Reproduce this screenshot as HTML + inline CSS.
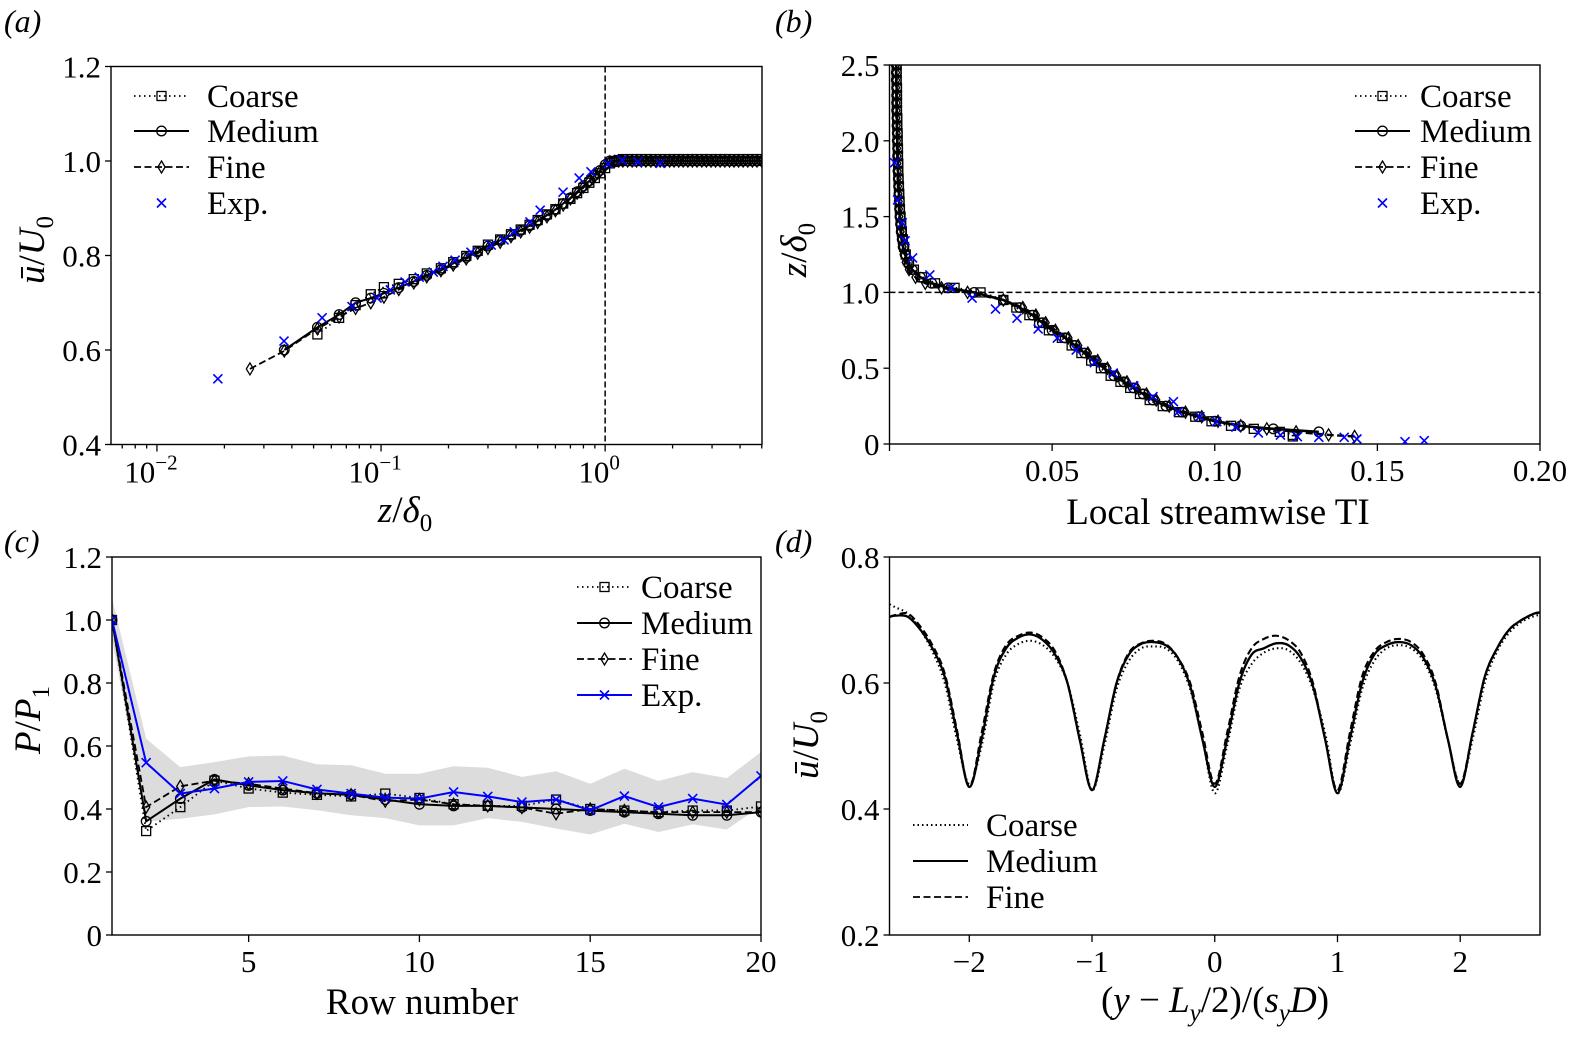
<!DOCTYPE html>
<html><head><meta charset="utf-8"><style>
html,body{margin:0;padding:0;background:#fff;}
svg{display:block;font-family:"Liberation Serif",serif;}
</style></head><body>
<svg id="fig" width="1576" height="1043" viewBox="0 0 1576 1043" xmlns="http://www.w3.org/2000/svg"></svg>
<script>
// ---------- Panel (a) data ----------
const zA=[0.026,0.037,0.052,0.065,0.077,0.09,0.103,0.12,0.14,0.16,0.185,0.21,0.24,0.27,0.3,0.34,0.38,0.42,0.46,0.5,0.55,0.6,0.65,0.7,0.75,0.8,0.85,0.9,0.95,1.0];
const uFineA=[0.56,0.598,0.645,0.67,0.688,0.70,0.712,0.728,0.742,0.755,0.768,0.78,0.793,0.805,0.815,0.828,0.84,0.85,0.86,0.87,0.882,0.895,0.907,0.92,0.932,0.945,0.957,0.968,0.978,0.99];
const uMedA=[null,0.60,0.648,0.675,0.70,0.71,0.72,0.732,0.745,0.758,0.77,0.783,0.796,0.808,0.82,0.832,0.843,0.853,0.863,0.873,0.885,0.897,0.91,0.922,0.935,0.947,0.958,0.97,0.98,0.992];
const uCoaA=[null,null,0.633,0.668,0.695,0.718,0.733,0.74,0.75,0.762,0.773,0.786,0.799,0.81,0.823,0.834,0.845,0.855,0.865,0.875,0.887,0.898,0.91,0.92,0.932,0.943,0.954,0.964,0.974,0.985];
const zPlatA=[1.05,1.1,1.15,1.2,1.26,1.32,1.38,1.45,1.52,1.6,1.68,1.76,1.85,1.94,2.03,2.13,2.23,2.34,2.45,2.57,2.7,2.83,2.97,3.11,3.26,3.42,3.59,3.76,3.94,4.13,4.33,4.54,4.76,5.0];
const uPlatFineA=[0.998,0.999,1,1,1,1,1,1,1,1,1,1,1,1,1,1,1,1,1,1,1,1,1,1,1,1,1,1,1,1,1,1,1,1];
const uPlatMedA=[1,1,1,1,1,1,1,1,1,1,1,1,1,1,1,1,1,1,1,1,1,1,1,1,1,1,1,1,1,1,1,1,1,1];
const uPlatCoaA=[0.995,0.998,1.002,1.004,1.004,1.004,1.004,1.004,1.004,1.004,1.004,1.004,1.004,1.004,1.004,1.004,1.004,1.004,1.004,1.004,1.004,1.004,1.004,1.004,1.004,1.004,1.004,1.004,1.004,1.004,1.004,1.004,1.004,1.004];
const zExpA=[0.0187,0.0369,0.0546,0.0742,0.096,0.11,0.128,0.148,0.171,0.189,0.214,0.252,0.31,0.354,0.393,0.462,0.513,0.649,0.766,0.865,1.03,1.19,1.40,1.76];
const uExpA=[0.539,0.619,0.668,0.692,0.71,0.727,0.744,0.754,0.765,0.777,0.79,0.807,0.822,0.833,0.85,0.871,0.896,0.934,0.964,0.977,0.994,1.002,0.998,0.995];
const yTicksA=[0.4,0.6,0.8,1.0,1.2];
const yTickLabelsA=["0.4","0.6","0.8","1.0","1.2"];
const xTicksA=[-2,-1,0];

// ---------- Panel (b) data ----------
const zB=[0.05,0.06,0.08,0.1,0.12,0.15,0.18,0.21,0.25,0.29,0.33,0.37,0.41,0.45,0.5,0.55,0.6,0.65,0.7,0.75,0.8,0.85,0.9,0.95,1.0,1.03,1.06,1.1,1.15,1.2,1.25,1.3,1.35,1.4,1.45,1.5,1.55,1.6,1.65,1.7,1.75,1.8,1.85,1.9,1.95,2.0,2.05,2.1,2.15,2.2,2.25,2.3,2.35,2.4,2.45,2.5];
const tiMedB=[null,null,0.132,0.118,0.108,0.1,0.095,0.09,0.085,0.081,0.078,0.075,0.072,0.069,0.066,0.063,0.06,0.057,0.054,0.05,0.047,0.044,0.04,0.035,0.026,0.018,0.013,0.0095,0.007,0.0055,0.0048,0.0042,0.0039,0.0036,0.0034,0.0032,0.0031,0.003,0.0029,0.0028,0.0027,0.0026,0.0026,0.0025,0.0025,0.0024,0.0024,0.0023,0.0023,0.0022,0.0022,0.0022,0.0022,0.0021,0.0021,0.0021];
const tiFineB=[0.143,0.135,0.125,0.116,0.108,0.101,0.096,0.091,0.086,0.082,0.079,0.076,0.073,0.07,0.067,0.064,0.061,0.058,0.055,0.051,0.048,0.045,0.041,0.035,0.024,0.016,0.011,0.008,0.006,0.005,0.0044,0.004,0.0037,0.0034,0.0032,0.003,0.0029,0.0028,0.0027,0.0026,0.0025,0.0025,0.0024,0.0024,0.0023,0.0023,0.0022,0.0022,0.0021,0.0021,0.0021,0.0021,0.002,0.002,0.002,0.002];
const tiCoaB=[0.124,0.124,0.12,0.112,0.105,0.099,0.094,0.089,0.084,0.08,0.077,0.074,0.071,0.068,0.065,0.062,0.059,0.056,0.053,0.049,0.046,0.043,0.039,0.035,0.028,0.02,0.014,0.01,0.0075,0.006,0.005,0.0045,0.0041,0.0038,0.0036,0.0034,0.0032,0.0031,0.003,0.0029,0.0028,0.0027,0.0027,0.0026,0.0026,0.0025,0.0025,0.0024,0.0024,0.0023,0.0023,0.0023,0.0023,0.0022,0.0022,0.0022];
const tiExpB=[0.0016,0.0025,0.0039,0.0048,0.0071,0.0124,0.0189,0.0254,0.0326,0.0392,0.0457,0.0516,0.0574,0.063,0.0688,0.0751,0.081,0.0873,0.0888,0.0954,0.1006,0.1065,0.1134,0.1202,0.1254,0.132,0.1398,0.1437,0.1585,0.1644];
const zExpB=[1.856,1.61,1.46,1.34,1.227,1.115,1.03,0.963,0.89,0.83,0.759,0.699,0.62,0.536,0.468,0.383,0.312,0.279,0.213,0.18,0.147,0.112,0.073,0.059,0.048,0.044,0.044,0.033,0.015,0.022];
const xTicksB=[0.05,0.10,0.15,0.20];
const xTickLabelsB=["0.05","0.10","0.15","0.20"];
const yTicksB=[0,0.5,1.0,1.5,2.0,2.5];
const yTickLabelsB=["0","0.5","1.0","1.5","2.0","2.5"];

// ---------- Panel (c) data ----------
const rows=[1,2,3,4,5,6,7,8,9,10,11,12,13,14,15,16,17,18,19,20];
const pExp=[1.0,0.547,0.449,0.465,0.486,0.489,0.462,0.449,0.436,0.433,0.454,0.44,0.422,0.43,0.396,0.441,0.406,0.433,0.414,0.505];
const pCoa=[1.0,0.33,0.406,0.49,0.465,0.452,0.445,0.44,0.449,0.435,0.415,0.41,0.41,0.43,0.40,0.395,0.39,0.395,0.395,0.408];
const pMed=[1.0,0.361,0.433,0.494,0.475,0.46,0.45,0.445,0.43,0.415,0.41,0.41,0.405,0.40,0.395,0.39,0.385,0.38,0.38,0.39];
const pFine=[1.0,0.406,0.472,0.49,0.48,0.465,0.45,0.445,0.425,0.43,0.415,0.41,0.405,0.385,0.40,0.395,0.39,0.39,0.39,0.39];
const bandUp=[1.07,0.623,0.533,0.549,0.567,0.57,0.542,0.539,0.512,0.512,0.536,0.531,0.502,0.52,0.48,0.528,0.489,0.517,0.498,0.581];
const bandLo=[0.94,0.36,0.369,0.383,0.406,0.408,0.396,0.38,0.371,0.348,0.348,0.371,0.359,0.338,0.319,0.353,0.327,0.351,0.335,0.41];
const xTicksC=[5,10,15,20];
const yTicksC=[0,0.2,0.4,0.6,0.8,1.0,1.2];
const yTickLabelsC=["0","0.2","0.4","0.6","0.8","1.0","1.2"];

// ---------- Panel (d) data ----------
const yD=[-2.65,-2.6,-2.5,-2.4,-2.3,-2.2,-2.1,-2.0,-1.9,-1.8,-1.7,-1.6,-1.5,-1.4,-1.3,-1.2,-1.1,-1.0,-0.9,-0.8,-0.7,-0.6,-0.5,-0.4,-0.3,-0.2,-0.1,0,0.1,0.2,0.3,0.4,0.5,0.6,0.7,0.8,0.9,1.0,1.1,1.2,1.3,1.4,1.5,1.6,1.7,1.8,1.9,2.0,2.1,2.2,2.3,2.4,2.5,2.6,2.65];
const uMedD=[0.705,0.707,0.705,0.685,0.655,0.61,0.52,0.435,0.51,0.61,0.655,0.672,0.677,0.668,0.645,0.60,0.51,0.43,0.51,0.60,0.645,0.662,0.665,0.66,0.64,0.595,0.51,0.435,0.51,0.60,0.645,0.655,0.663,0.66,0.64,0.595,0.51,0.425,0.51,0.60,0.645,0.66,0.665,0.66,0.64,0.595,0.51,0.435,0.52,0.61,0.655,0.685,0.70,0.71,0.712];
const uCoaD=[0.725,0.72,0.71,0.685,0.65,0.60,0.51,0.44,0.50,0.60,0.645,0.662,0.667,0.66,0.64,0.60,0.52,0.43,0.50,0.59,0.635,0.655,0.658,0.655,0.635,0.59,0.51,0.425,0.50,0.59,0.63,0.648,0.655,0.652,0.632,0.59,0.52,0.425,0.50,0.59,0.635,0.655,0.66,0.655,0.635,0.59,0.51,0.44,0.51,0.60,0.65,0.68,0.697,0.706,0.708];
const uFineD=[0.705,0.708,0.71,0.69,0.66,0.615,0.525,0.435,0.52,0.615,0.66,0.675,0.68,0.672,0.65,0.60,0.51,0.43,0.51,0.60,0.648,0.663,0.667,0.662,0.64,0.60,0.52,0.44,0.52,0.61,0.655,0.67,0.675,0.668,0.648,0.60,0.51,0.43,0.52,0.61,0.65,0.665,0.67,0.665,0.645,0.60,0.51,0.44,0.52,0.61,0.655,0.685,0.70,0.71,0.712];
const xTicksD=[-2,-1,0,1,2];
const xTickLabelsD=["\u22122","\u22121","0","1","2"];
const yTicksD=[0.2,0.4,0.6,0.8];
const yTickLabelsD=["0.2","0.4","0.6","0.8"];

// ---------- helpers ----------
const NS='http://www.w3.org/2000/svg';
const svg=document.getElementById('fig');
const TICK=31, LEG=33, TITLE=37;
function el(tag,parent){const e=document.createElementNS(NS,tag);parent.appendChild(e);return e;}
function at(e,o){for(const k in o)e.setAttribute(k,o[k]);return e;}
function linScale(d0,d1,r0,r1){return v=>r0+(v-d0)/(d1-d0)*(r1-r0);}
function logScale(e0,e1,r0,r1){return v=>r0+(Math.log10(v)-e0)/(e1-e0)*(r1-r0);}
const STY={coarse:{dash:'1.5,3.5',w:1.8},medium:{dash:'',w:2},fine:{dash:'7,3.5',w:1.8}};

function marker(g,type,x,y,color){
  let m;
  if(type==='s'){m=at(el('rect',g),{x:x-4.5,y:y-4.5,width:9,height:9,fill:'none',stroke:'#000','stroke-width':1.3});}
  else if(type==='o'){m=at(el('circle',g),{cx:x,cy:y,r:4.8,fill:'none',stroke:'#000','stroke-width':1.3});}
  else if(type==='d'){m=at(el('path',g),{d:`M${x} ${y-6}L${x+3.6} ${y}L${x} ${y+6}L${x-3.6} ${y}Z`,fill:'none',stroke:'#000','stroke-width':1.3});}
  else {m=at(el('path',g),{d:`M${x-4.5} ${y-4.5}L${x+4.5} ${y+4.5}M${x-4.5} ${y+4.5}L${x+4.5} ${y-4.5}`,fill:'none',stroke:color||'#0000ff','stroke-width':1.6});}
  return m;
}
function polyPath(xs,ys){let d='';let first=true;for(let i=0;i<xs.length;i++){if(ys[i]==null||xs[i]==null)continue;d+=(first?'M':'L')+xs[i].toFixed(2)+' '+ys[i].toFixed(2);first=false;}return d;}
function smoothPath(px,py){let d='M'+px[0]+' '+py[0];for(let i=0;i<px.length-1;i++){const x0=px[Math.max(0,i-1)],y0=py[Math.max(0,i-1)],x1=px[i],y1=py[i],x2=px[i+1],y2=py[i+1],x3=px[Math.min(px.length-1,i+2)],y3=py[Math.min(px.length-1,i+2)];
  d+=`C${(x1+(x2-x0)/6).toFixed(2)} ${(y1+(y2-y0)/6).toFixed(2)} ${(x2-(x3-x1)/6).toFixed(2)} ${(y2-(y3-y1)/6).toFixed(2)} ${x2.toFixed(2)} ${y2.toFixed(2)}`;}return d;}
function txt(g,x,y,s,size,anchor,extra){const t=at(el('text',g),{x:x,y:y,'font-size':size,'text-anchor':anchor||'middle',fill:'#000'});if(extra)at(t,extra);t.textContent=s;return t;}
function frame(g,b,id){const r=at(el('rect',g),{x:b.x0,y:b.y0,width:b.x1-b.x0,height:b.y1-b.y0,fill:'none',stroke:'#000','stroke-width':1.4});
  
  
  const cp=at(el('clipPath',g),{id:'clip-'+id});at(el('rect',cp),{x:b.x0,y:b.y0,width:b.x1-b.x0,height:b.y1-b.y0});}
function tick(g,x1,y1,x2,y2){at(el('line',g),{x1:x1,y1:y1,x2:x2,y2:y2,stroke:'#000','stroke-width':1.3});}
function legendEntry(g,x,y,type,label,lineStyle,color,tx){
  const e=el('g',g);
  if(lineStyle){at(el('line',e),{x1:x,y1:y,x2:x+55,y2:y,stroke:color||'#000','stroke-width':lineStyle.w,'stroke-dasharray':lineStyle.dash});}
  if(type)marker(e,type,x+27.5,y,color);
  txt(e,tx||x+73,y+11,label,LEG,'start');
  return e;
}

// ---------- Panel (a) ----------
{
const g=el('g',svg);
const b={x0:111,x1:762,y0:66.5,y1:444.5};
const sx=logScale(-2.205,0.70,b.x0,b.x1), sy=linScale(0.4,1.2,b.y1,b.y0);
frame(g,b,'a');
const pl=at(el('g',g),{'clip-path':'url(#clip-a)'});
const vl=at(el('line',pl),{x1:sx(1),y1:b.y0,x2:sx(1),y2:b.y1,stroke:'#000','stroke-width':1.5,'stroke-dasharray':'6,3'});


const series=[['coarse',uCoaA,uPlatCoaA,'s'],['medium',uMedA,uPlatMedA,'o'],['fine',uFineA,uPlatFineA,'d']];
for(const [nm,u,up,mk] of series){
  const sg=el('g',pl);
  const zs=zA.concat(zPlatA), us=u.concat(up);
  at(el('path',sg),{d:polyPath(zs.map(sx),us.map(v=>v==null?null:sy(v))),fill:'none',stroke:'#000','stroke-width':STY[nm].w,'stroke-dasharray':STY[nm].dash});
  for(let i=0;i<zs.length;i++){if(us[i]==null)continue;const m=marker(sg,mk,sx(zs[i]),sy(us[i]));
    
    }
}
const eg=el('g',pl);
for(let i=0;i<zExpA.length;i++){const m=marker(eg,'x',sx(zExpA[i]),sy(uExpA[i]));
  
  }
for(let i=0;i<yTicksA.length;i++){const y=sy(yTicksA[i]);tick(g,b.x0-6,y,b.x0,y);const t=txt(g,b.x0-10,y+11,yTickLabelsA[i],TICK,'end');
  
  }
for(const e of xTicksA){const x=sx(Math.pow(10,e));tick(g,x,b.y1,x,b.y1+7);
  const t=txt(g,x-6,b.y1+38,'10',TICK,'middle');const sp=at(el('tspan',t),{dy:-13,'font-size':21});sp.textContent=e===0?'0':'\u2212'+(-e);
  
  }
for(let e=-3;e<=0;e++){for(let k=2;k<=9;k++){const v=k*Math.pow(10,e);const x=sx(v);if(x<b.x0||x>b.x1)continue;tick(g,x,b.y1,x,b.y1+4);}}
const xt=txt(g,405,522,'',TITLE,'middle');xt.innerHTML='<tspan font-style="italic">z</tspan>/<tspan font-style="italic">δ</tspan><tspan font-size="25" dy="9">0</tspan>';


const yt=txt(g,0,0,'',TITLE,'middle',{transform:'translate(44,250) rotate(-90)'});yt.innerHTML='<tspan font-style="italic">ū</tspan>/<tspan font-style="italic">U</tspan><tspan font-size="25" dy="9">0</tspan>';


const lg=el('g',g);
const l1=legendEntry(lg,134,96,'s','Coarse',STY.coarse);
const l2=legendEntry(lg,134,131,'o','Medium',STY.medium);
const l3=legendEntry(lg,134,167,'d','Fine',STY.fine);
const l4=legendEntry(lg,134,203,'x','Exp.',null,'#0000ff');
const pa=txt(g,4,32,'(a)',32,'start',{'font-style':'italic'});
}

// ---------- Panel (b) ----------
{
const g=el('g',svg);
const b={x0:889.5,x1:1540,y0:65,y1:444};
const sx=linScale(0,0.2,b.x0,b.x1), sy=linScale(0,2.5,b.y1,b.y0);
frame(g,b,'b');
const pl=at(el('g',g),{'clip-path':'url(#clip-b)'});
const hl=at(el('line',pl),{x1:b.x0,y1:sy(1),x2:b.x1,y2:sy(1),stroke:'#000','stroke-width':1.5,'stroke-dasharray':'6,3'});


const series=[['coarse',tiCoaB,'s'],['medium',tiMedB,'o'],['fine',tiFineB,'d']];
for(const [nm,t,mk] of series){
  const sg=el('g',pl);
  at(el('path',sg),{d:polyPath(t.map(v=>v==null?null:sx(v)),zB.map(sy)),fill:'none',stroke:'#000','stroke-width':STY[nm].w+0.6,'stroke-dasharray':STY[nm].dash});
  for(let i=0;i<zB.length;i++){if(t[i]==null)continue;const m=marker(sg,mk,sx(t[i]),sy(zB[i]));
    
    }
}
const eg=el('g',pl);
for(let i=0;i<tiExpB.length;i++){const m=marker(eg,'x',sx(tiExpB[i]),sy(zExpB[i]));
  
  }
for(let i=0;i<xTicksB.length;i++){const x=sx(xTicksB[i]);tick(g,x,b.y1,x,b.y1+7);const t=txt(g,x,b.y1+37,xTickLabelsB[i],TICK,'middle');
  
  }
tick(g,b.x0,b.y1,b.x0,b.y1+7);
for(let i=0;i<yTicksB.length;i++){const y=sy(yTicksB[i]);tick(g,b.x0-6,y,b.x0,y);const t=txt(g,b.x0-10,y+11,yTickLabelsB[i],TICK,'end');
  
  }
const xt=txt(g,1218,524,'Local streamwise TI',TITLE,'middle');
const yt=txt(g,0,0,'',TITLE,'middle',{transform:'translate(806,250) rotate(-90)'});yt.innerHTML='<tspan font-style="italic">z</tspan>/<tspan font-style="italic">δ</tspan><tspan font-size="25" dy="9">0</tspan>';


const lg=el('g',g);
const l1=legendEntry(lg,1355,96,'s','Coarse',STY.coarse,null,1420);
const l2=legendEntry(lg,1355,131,'o','Medium',STY.medium,null,1420);
const l3=legendEntry(lg,1355,167,'d','Fine',STY.fine,null,1420);
const l4=legendEntry(lg,1355,203,'x','Exp.',null,'#0000ff',1420);
const pb=txt(g,775,32,'(b)',32,'start',{'font-style':'italic'});
}

// ---------- Panel (c) ----------
{
const g=el('g',svg);
const b={x0:112,x1:761,y0:557,y1:935};
const sx=linScale(1,20,b.x0,b.x1), sy=linScale(0,1.2,b.y1,b.y0);
const cp=at(el('clipPath',g),{id:'clip-c'});at(el('rect',cp),{x:b.x0,y:b.y0,width:b.x1-b.x0,height:b.y1-b.y0});
const pl=at(el('g',g),{'clip-path':'url(#clip-c)'});
let pts=rows.map((r,i)=>sx(r).toFixed(1)+','+sy(bandUp[i]).toFixed(1));
for(let i=rows.length-1;i>=0;i--)pts.push(sx(rows[i]).toFixed(1)+','+sy(bandLo[i]).toFixed(1));
const band=at(el('polygon',pl),{points:pts.join(' '),fill:'#dcdcdc',stroke:'none'});


const series=[['coarse',pCoa,'s','#000'],['medium',pMed,'o','#000'],['fine',pFine,'d','#000']];
for(const [nm,p,mk,c] of series){
  const sg=el('g',pl);
  at(el('path',sg),{d:polyPath(rows.map(sx),p.map(sy)),fill:'none',stroke:c,'stroke-width':STY[nm].w,'stroke-dasharray':STY[nm].dash});
  for(let i=0;i<rows.length;i++){const m=marker(sg,mk,sx(rows[i]),sy(p[i]));
    
    }
}
const eg=el('g',pl);
at(el('path',eg),{d:polyPath(rows.map(sx),pExp.map(sy)),fill:'none',stroke:'#0000ff','stroke-width':2});
for(let i=0;i<rows.length;i++){const m=marker(eg,'x',sx(rows[i]),sy(pExp[i]));
  
  }
const fr=at(el('rect',g),{x:b.x0,y:b.y0,width:b.x1-b.x0,height:b.y1-b.y0,fill:'none',stroke:'#000','stroke-width':1.4});


for(const v of xTicksC){const x=sx(v);tick(g,x,b.y1,x,b.y1+7);const t=txt(g,x,b.y1+37,String(v),TICK,'middle');
  
  }
for(let i=0;i<yTicksC.length;i++){const y=sy(yTicksC[i]);tick(g,b.x0-6,y,b.x0,y);const t=txt(g,b.x0-10,y+11,yTickLabelsC[i],TICK,'end');
  
  }
const xt=txt(g,422,1014,'Row number',TITLE,'middle');
const yt=txt(g,0,0,'',TITLE,'middle',{transform:'translate(40,720) rotate(-90)'});yt.innerHTML='<tspan font-style="italic">P</tspan>/<tspan font-style="italic">P</tspan><tspan font-size="25" dy="9">1</tspan>';


const lg=el('g',g);
const l1=legendEntry(lg,577,587,'s','Coarse',STY.coarse,null,641);
const l2=legendEntry(lg,577,623,'o','Medium',STY.medium,null,641);
const l3=legendEntry(lg,577,659,'d','Fine',STY.fine,null,641);
const l4=legendEntry(lg,577,695,'x','Exp.',{dash:'',w:2},'#0000ff',641);
const pc=txt(g,4,552,'(c)',32,'start',{'font-style':'italic'});
}

// ---------- Panel (d) ----------
{
const g=el('g',svg);
const b={x0:889.5,x1:1540,y0:557,y1:935};
const sx=linScale(-2.65,2.65,b.x0,b.x1), sy=linScale(0.2,0.8,b.y1,b.y0);
frame(g,b,'d');
const pl=at(el('g',g),{'clip-path':'url(#clip-d)'});
const series=[['coarse',uCoaD],['medium',uMedD],['fine',uFineD]];
for(const [nm,u] of series){
  const p=at(el('path',pl),{d:smoothPath(yD.map(sx),u.map(sy)),fill:'none',stroke:'#000','stroke-width':STY[nm].w+0.3,'stroke-dasharray':nm==='coarse'?'1.5,3':STY[nm].dash});
  
  
}
for(let i=0;i<xTicksD.length;i++){const x=sx(xTicksD[i]);tick(g,x,b.y1,x,b.y1+7);const t=txt(g,x,b.y1+37,xTickLabelsD[i],TICK,'middle');
  
  }
for(let i=0;i<yTicksD.length;i++){const y=sy(yTicksD[i]);tick(g,b.x0-6,y,b.x0,y);const t=txt(g,b.x0-10,y+11,yTickLabelsD[i],TICK,'end');
  
  }
const xt=txt(g,1215,1012,'',TITLE,'middle');xt.innerHTML='(<tspan font-style="italic">y</tspan> \u2212 <tspan font-style="italic">L</tspan><tspan font-size="25" dy="9" font-style="italic">y</tspan><tspan dy="-9">/2)/(</tspan><tspan font-style="italic">s</tspan><tspan font-size="25" dy="9" font-style="italic">y</tspan><tspan dy="-9" font-style="italic">D</tspan>)';


const yt=txt(g,0,0,'',TITLE,'middle',{transform:'translate(818,745) rotate(-90)'});yt.innerHTML='<tspan font-style="italic">ū</tspan>/<tspan font-style="italic">U</tspan><tspan font-size="25" dy="9">0</tspan>';


const lg=el('g',g);
const l1=legendEntry(lg,913,825,null,'Coarse',{dash:'1.5,3',w:2},null,986);
const l2=legendEntry(lg,913,861,null,'Medium',STY.medium,null,986);
const l3=legendEntry(lg,913,897,null,'Fine',STY.fine,null,986);
const pd=txt(g,775,552,'(d)',32,'start',{'font-style':'italic'});
}
</script>
</body></html>
